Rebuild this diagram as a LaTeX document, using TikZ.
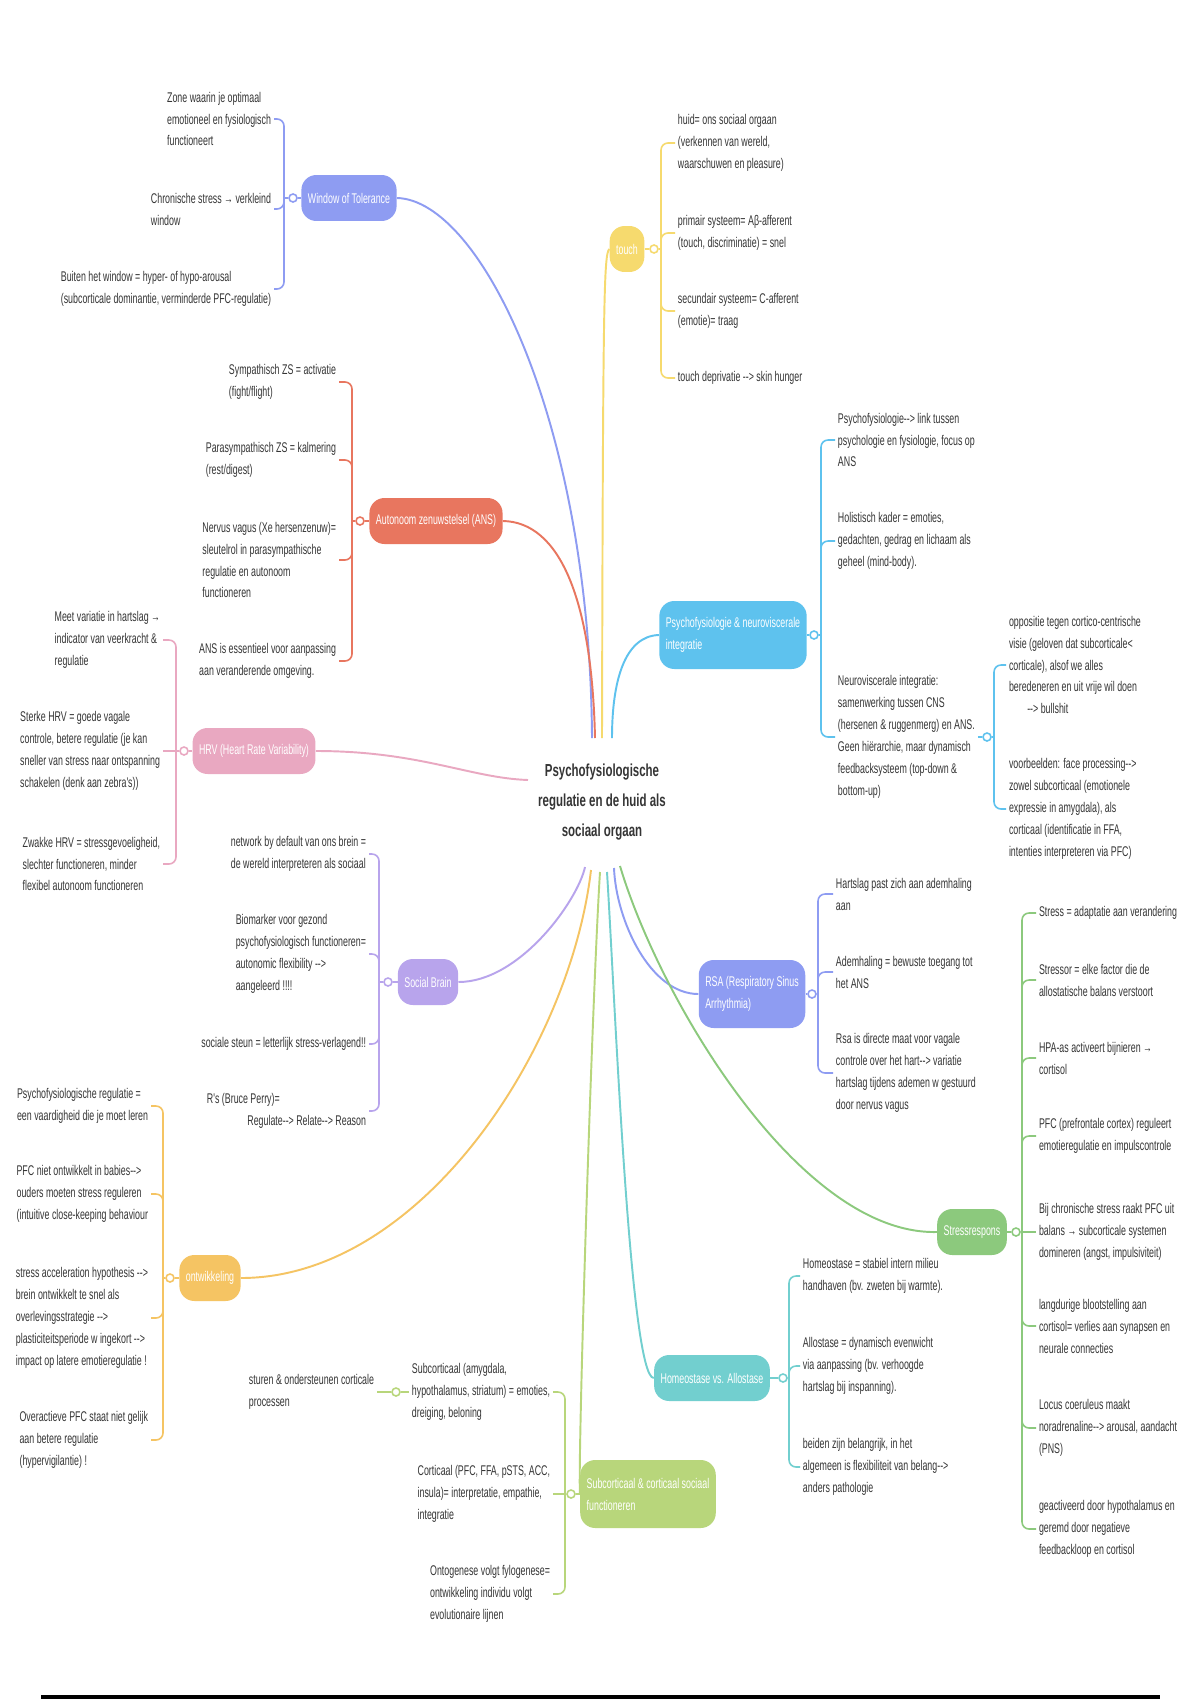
\documentclass[tikz,border=0pt]{standalone}
\usepackage{fontspec}
\newfontfamily\mapfont[FakeStretch=0.63]{Liberation Sans}
\newfontfamily\kopfont[FakeStretch=0.66]{Liberation Sans}
\usepackage{tikz}
\definecolor{tekst}{HTML}{353535}
\definecolor{cwot}{HTML}{8E9CF2}
\definecolor{ctouch}{HTML}{F6DA6E}
\definecolor{cans}{HTML}{E8765F}
\definecolor{chrv}{HTML}{E9A8C1}
\definecolor{cpsy}{HTML}{5EC2EE}
\definecolor{csoc}{HTML}{B8A4EC}
\definecolor{cont}{HTML}{F5C463}
\definecolor{crsa}{HTML}{8E9CF2}
\definecolor{cstr}{HTML}{8CC97D}
\definecolor{chom}{HTML}{72CFCF}
\definecolor{csub}{HTML}{B8D67B}
\newcommand{\pijl}{-{}->}
\newcommand{\leaffont}{\mapfont\fontsize{8}{12.5}\selectfont}

\begin{document}
\begin{tikzpicture}[x=0.02cm,y=-0.02cm,
    leaf/.style={text=tekst,align=left,inner sep=1.5pt,font=\leaffont},
    pill/.style={fill=#1,text=white,rounded corners=0.3cm,minimum height=0.92cm,inner xsep=0.13cm,align=left,font=\leaffont},
    joint/.style={circle,draw=#1,fill=white,line width=0.9pt,inner sep=0pt,minimum size=0.16cm},
    branch/.style={draw=#1,line width=1.1pt},
    spine/.style={draw=#1,line width=0.9pt,rounded corners=0.14cm}]
        \fill[white] (0,0) rectangle (1200,1700);
        \useasboundingbox (0,0) rectangle (1200,1700);
        % centre and where the branches meet it
        \node[text=tekst,align=center,font=\kopfont\bfseries\fontsize{9.9}{17}\selectfont] (C) at (602,802) {Psychofysiologische\\regulatie en de huid als\\sociaal orgaan};
        \coordinate (eW) at (592,738);
        \coordinate (eA) at (595,738);
        \coordinate (eT) at (602,738);
        \coordinate (eP) at (612,738);
        \coordinate (eH) at (528,780);
        \coordinate (eS) at (585,867);
        \coordinate (eO) at (591,870);
        \coordinate (eSc) at (600,872);
        \coordinate (eHo) at (607,872);
        \coordinate (eR) at (614,868);
        \coordinate (eSt) at (620,866);
        % main topics
        \node[pill=cwot] (W) at (349,198) {Window of Tolerance};
        \node[pill=ctouch] (T) at (627,249) {touch};
        \node[pill=cans] (A) at (436,521) {Autonoom zenuwstelsel (ANS)};
        \node[pill=chrv] (H) at (254,751) {HRV (Heart Rate Variability)};
        \node[pill=cpsy,minimum height=1.36cm] (P) at (733,635) {Psychofysiologie \& neuroviscerale\\integratie};
        \node[pill=csoc] (S) at (428,982) {Social Brain};
        \node[pill=cont] (O) at (210,1278) {ontwikkeling};
        \node[pill=crsa,minimum height=1.36cm] (R) at (752,994) {RSA (Respiratory Sinus\\Arrhythmia)};
        \node[pill=cstr] (St) at (972,1232) {Stressrespons};
        \node[pill=chom] (Ho) at (712,1378) {Homeostase vs. Allostase};
        \node[pill=csub,minimum height=1.36cm] (Sc) at (648,1494) {Subcorticaal \& corticaal sociaal\\functioneren};
        \draw[branch=cwot] (W.east) .. controls (480,200) and (590,420) .. (eW);
        \draw[branch=cans] (A.east) .. controls (560,522) and (592,600) .. (eA);
        \draw[branch=ctouch] (T.west) .. controls (604,255) and (603,290) .. (eT);
        \draw[branch=cpsy] (P.west) .. controls (625,636) and (612,680) .. (eP);
        \draw[branch=chrv] (H.east) .. controls (420,751) and (470,778) .. (eH);
        \draw[branch=csoc] (S.east) .. controls (520,982) and (578,900) .. (eS);
        \draw[branch=cont] (O.east) .. controls (420,1278) and (570,1050) .. (eO);
        \draw[branch=csub] (Sc.west) .. controls (578,1450) and (592,1000) .. (eSc);
        \draw[branch=chom] (Ho.west) .. controls (630,1378) and (615,1000) .. (eHo);
        \draw[branch=crsa] (R.west) .. controls (650,994) and (616,920) .. (eR);
        \draw[branch=cstr] (St.west) .. controls (800,1235) and (660,1000) .. (eSt);
        % Window of Tolerance
        \node[joint=cwot] (kW) at (293,198) {};
        \coordinate (bW) at (284,198);
        \node[leaf,anchor=east] (W1) at (274,119) {Zone waarin je optimaal\\emotioneel en fysiologisch\\functioneert};
        \node[leaf,anchor=east] (W2) at (274,209) {Chronische stress → verkleind\\window};
        \node[leaf,anchor=east] (W3) at (274,289) {Buiten het window = hyper- of hypo-arousal\\(subcorticale dominantie, verminderde PFC-regulatie)};
        \draw[branch=cwot] (W.west) -- (kW.east);
        \draw[spine=cwot] (kW.west) -- (bW);
        \foreach \n in {W1,W2,W3} \draw[spine=cwot] (bW) |- (\n.east);
        % touch
        \node[joint=ctouch] (kT) at (654,249) {};
        \coordinate (bT) at (661,249);
        \node[leaf,anchor=west] (T1) at (675,143) {huid= ons sociaal orgaan\\(verkennen van wereld,\\waarschuwen en pleasure)};
        \node[leaf,anchor=west] (T2) at (675,233) {primair systeem= Aβ-afferent\\(touch, discriminatie) = snel};
        \node[leaf,anchor=west] (T3) at (675,311) {secundair systeem= C-afferent\\(emotie)= traag};
        \node[leaf,anchor=west] (T4) at (675,378) {touch deprivatie \pijl{} skin hunger};
        \draw[branch=ctouch] (T.east) -- (kT.west);
        \draw[spine=ctouch] (kT.east) -- (bT);
        \foreach \n in {T1,T2,T3,T4} \draw[spine=ctouch] (bT) |- (\n.west);
        % ANS
        \node[joint=cans] (kA) at (360,521) {};
        \coordinate (bA) at (352,521);
        \node[leaf,anchor=east] (A1) at (339,382) {Sympathisch ZS = activatie\\(fight/flight)};
        \node[leaf,anchor=east] (A2) at (339,460) {Parasympathisch ZS = kalmering\\(rest/digest)};
        \node[leaf,anchor=east] (A3) at (339,560) {Nervus vagus (Xe hersenzenuw)=\\ sleutelrol in parasympathische\\regulatie en autonoom\\functioneren};
        \node[leaf,anchor=east] (A4) at (339,661) {ANS is essentieel voor aanpassing\\aan veranderende omgeving.};
        \draw[branch=cans] (A.west) -- (kA.east);
        \draw[spine=cans] (kA.west) -- (bA);
        \foreach \n in {A1,A2,A3,A4} \draw[spine=cans] (bA) |- (\n.east);
        % HRV
        \node[joint=chrv] (kH) at (184,751) {};
        \coordinate (bH) at (176,751);
        \node[leaf,anchor=east] (H1) at (163,640) {Meet variatie in hartslag →\\indicator van veerkracht \&\\regulatie};
        \node[leaf,anchor=east] (H2) at (163,751) {Sterke HRV = goede vagale\\controle, betere regulatie (je kan\\sneller van stress naar ontspanning\\schakelen (denk aan zebra's))};
        \node[leaf,anchor=east] (H3) at (163,864) {Zwakke HRV = stressgevoeligheid,\\slechter functioneren, minder\\flexibel autonoom functioneren};
        \draw[branch=chrv] (H.west) -- (kH.east);
        \draw[spine=chrv] (kH.west) -- (H2.east);
        \foreach \n in {H1,H3} \draw[spine=chrv] (bH) |- (\n.east);
        % Psychofysiologie
        \node[joint=cpsy] (kP) at (814,635) {};
        \coordinate (bP) at (821,635);
        \node[leaf,anchor=west] (P1) at (835,440) {Psychofysiologie\pijl{} link tussen\\psychologie en fysiologie, focus op\\ANS};
        \node[leaf,anchor=west] (P2) at (835,541) {Holistisch kader = emoties,\\gedachten, gedrag en lichaam als\\geheel (mind-body).};
        \node[leaf,anchor=west] (P3) at (835,737) {Neuroviscerale integratie:\\samenwerking tussen CNS\\(hersenen \& ruggenmerg) en ANS.\\Geen hiërarchie, maar dynamisch\\feedbacksysteem (top-down \&\\bottom-up)};
        \draw[branch=cpsy] (P.east) -- (kP.west);
        \draw[spine=cpsy] (kP.east) -- (bP);
        \foreach \n in {P1,P2,P3} \draw[spine=cpsy] (bP) |- (\n.west);
        \node[joint=cpsy] (kP3) at (987,737) {};
        \coordinate (bP3) at (994,737);
        \node[leaf,anchor=west] (P31) at (1006,665) {oppositie tegen cortico-centrische\\visie (geloven dat subcorticale<\\corticale), alsof we alles\\beredeneren en uit vrije wil doen\\\hspace*{1.3em}\pijl{} bullshit};
        \node[leaf,anchor=west] (P32) at (1006,809) {voorbeelden: face processing\pijl\\zowel subcorticaal (emotionele\\expressie in amygdala), als\\corticaal (identificatie in FFA,\\intenties interpreteren via PFC)};
        \draw[spine=cpsy] (P3.east) -- (kP3.west);
        \draw[spine=cpsy] (kP3.east) -- (bP3);
        \foreach \n in {P31,P32} \draw[spine=cpsy] (bP3) |- (\n.west);
        % Social Brain
        \node[joint=csoc] (kS) at (388,982) {};
        \coordinate (bS) at (379,982);
        \node[leaf,anchor=east] (S1) at (369,854) {network by default van ons brein =\\de wereld interpreteren als sociaal};
        \node[leaf,anchor=east] (S2) at (369,954) {Biomarker voor gezond\\psychofysiologisch functioneren=\\autonomic flexibility \pijl\\aangeleerd !!!!};
        \node[leaf,anchor=east] (S3) at (369,1044) {sociale steun = letterlijk stress-verlagend!!};
        \node[leaf,anchor=east] (S4) at (369,1111) {R's (Bruce Perry)=\\\hspace*{23pt}Regulate\pijl{} Relate\pijl{} Reason};
        \draw[branch=csoc] (S.west) -- (kS.east);
        \draw[spine=csoc] (kS.west) -- (bS);
        \foreach \n in {S1,S2,S3,S4} \draw[spine=csoc] (bS) |- (\n.east);
        % ontwikkeling
        \node[joint=cont] (kO) at (170,1278) {};
        \coordinate (bO) at (163,1278);
        \node[leaf,anchor=east] (O1) at (151,1106) {Psychofysiologische regulatie =\\een vaardigheid die je moet leren};
        \node[leaf,anchor=east] (O2) at (151,1194) {PFC niet ontwikkelt in babies\pijl\\ouders moeten stress reguleren\\(intuitive close-keeping behaviour};
        \node[leaf,anchor=east] (O3) at (151,1318) {stress acceleration hypothesis \pijl\\brein ontwikkelt te snel als\\overlevingsstrategie \pijl\\plasticiteitsperiode w ingekort \pijl\\impact op latere emotieregulatie !};
        \node[leaf,anchor=east] (O4) at (151,1440) {Overactieve PFC staat niet gelijk\\aan betere regulatie\\(hypervigilantie) !};
        \draw[branch=cont] (O.west) -- (kO.east);
        \draw[spine=cont] (kO.west) -- (bO);
        \foreach \n in {O1,O2,O3,O4} \draw[spine=cont] (bO) |- (\n.east);
        % RSA
        \node[joint=crsa] (kR) at (812,994) {};
        \coordinate (bR) at (818,994);
        \node[leaf,anchor=west] (R1) at (833,894) {Hartslag past zich aan ademhaling\\aan};
        \node[leaf,anchor=west] (R2) at (833,972) {Ademhaling = bewuste toegang tot\\het ANS};
        \node[leaf,anchor=west] (R3) at (833,1073) {Rsa is directe maat voor vagale\\controle over het hart\pijl{} variatie\\ hartslag tijdens ademen w gestuurd\\door nervus vagus};
        \draw[branch=crsa] (R.east) -- (kR.west);
        \draw[spine=crsa] (kR.east) -- (bR);
        \foreach \n in {R1,R2,R3} \draw[spine=crsa] (bR) |- (\n.west);
        % Stressrespons
        \node[joint=cstr] (kSt) at (1016,1232) {};
        \coordinate (bSt) at (1022,1232);
        \node[leaf,anchor=west] (St1) at (1036,913) {Stress = adaptatie aan verandering};
        \node[leaf,anchor=west] (St2) at (1036,980) {Stressor = elke factor die de\\allostatische balans verstoort};
        \node[leaf,anchor=west] (St3) at (1036,1058) {HPA-as activeert bijnieren →\\cortisol};
        \node[leaf,anchor=west] (St4) at (1036,1136) {PFC (prefrontale cortex) reguleert\\emotieregulatie en impulscontrole};
        \node[leaf,anchor=west] (St5) at (1036,1232) {Bij chronische stress raakt PFC uit\\balans → subcorticale systemen\\domineren (angst, impulsiviteit)};
        \node[leaf,anchor=west] (St6) at (1036,1326) {langdurige blootstelling aan\\cortisol= verlies aan synapsen en\\neurale connecties};
        \node[leaf,anchor=west] (St7) at (1036,1428) {Locus coeruleus maakt\\noradrenaline\pijl{} arousal, aandacht\\(PNS)};
        \node[leaf,anchor=west] (St8) at (1036,1529) {geactiveerd door hypothalamus en\\geremd door negatieve\\feedbackloop en cortisol};
        \draw[branch=cstr] (St.east) -- (kSt.west);
        \draw[spine=cstr] (kSt.east) -- (St5.west);
        \foreach \n in {St1,St2,St3,St4,St6,St7,St8} \draw[spine=cstr] (bSt) |- (\n.west);
        % Homeostase vs. Allostase
        \node[joint=chom] (kHo) at (783,1378) {};
        \coordinate (bHo) at (789,1378);
        \node[leaf,anchor=west] (Ho1) at (800,1276) {Homeostase = stabiel intern milieu\\handhaven (bv. zweten bij warmte).};
        \node[leaf,anchor=west] (Ho2) at (800,1366) {Allostase = dynamisch evenwicht\\via aanpassing (bv. verhoogde\\hartslag bij inspanning).};
        \node[leaf,anchor=west] (Ho3) at (800,1467) {beiden zijn belangrijk, in het\\algemeen is flexibiliteit van belang\pijl\\anders pathologie};
        \draw[branch=chom] (Ho.east) -- (kHo.west);
        \draw[spine=chom] (kHo.east) -- (bHo);
        \foreach \n in {Ho1,Ho2,Ho3} \draw[spine=chom] (bHo) |- (\n.west);
        % Subcorticaal & corticaal
        \node[joint=csub] (kSc) at (571,1494) {};
        \coordinate (bSc) at (565,1494);
        \node[leaf,anchor=east] (Sc1) at (553,1392) {Subcorticaal (amygdala,\\hypothalamus, striatum) = emoties,\\dreiging, beloning};
        \node[leaf,anchor=east] (Sc2) at (553,1494) {Corticaal (PFC, FFA, pSTS, ACC,\\insula)= interpretatie, empathie,\\integratie};
        \node[leaf,anchor=east] (Sc3) at (553,1594) {Ontogenese volgt fylogenese=\\ontwikkeling individu volgt\\evolutionaire lijnen};
        \draw[branch=csub] (Sc.west) -- (kSc.east);
        \draw[spine=csub] (kSc.west) -- (Sc2.east);
        \foreach \n in {Sc1,Sc3} \draw[spine=csub] (bSc) |- (\n.east);
        \node[joint=csub] (kSc1) at (396,1392) {};
        \node[leaf,anchor=east] (Sc11) at (377,1392) {sturen \& ondersteunen corticale\\processen};
        \draw[spine=csub] (Sc1.west) -- (kSc1.east);
        \draw[spine=csub] (kSc1.west) -- (Sc11.east);
        \draw[line width=2pt] (41,1697) -- (1160,1697);
    \end{tikzpicture}
\end{document}
